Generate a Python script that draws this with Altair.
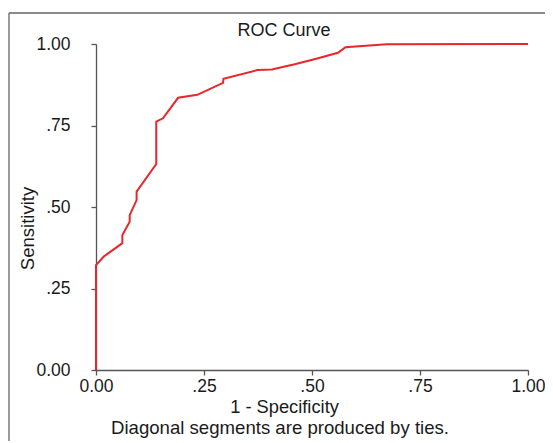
import altair as alt
import pandas as pd

# ROC curve points (1 - specificity, sensitivity)
FPR = [0.0, 0.0, 0.018, 0.061, 0.061, 0.078, 0.078, 0.094, 0.094, 0.1395, 0.1395,
       0.155, 0.19, 0.2345, 0.294, 0.295, 0.3735, 0.407, 0.46, 0.51, 0.56, 0.5775,
       0.6725, 1.0]
TPR = [0.0, 0.322, 0.348, 0.389, 0.414, 0.455, 0.475, 0.521, 0.547, 0.632, 0.762,
       0.772, 0.835, 0.844, 0.881, 0.893, 0.920, 0.922, 0.938, 0.955, 0.973, 0.990,
       0.999, 1.0]
TICKS = [0.0, 0.25, 0.5, 0.75, 1.0]
X_TICK_LABELS = ["0.00", ".25", ".50", ".75", "1.00"]
Y_TICK_LABELS = ["0.00", ".25", ".50", ".75", "1.00"]

TITLE = "ROC Curve"
X_TITLE = "1 - Specificity"
Y_TITLE = "Sensitivity"
FOOTNOTE = "Diagonal segments are produced by ties."

FONT = "Liberation Sans"
W, H = 432, 326

df = pd.DataFrame({"fpr": FPR, "tpr": TPR, "order": list(range(len(FPR)))})


def label_expr(labels):
    parts = " : ".join(
        f"abs(datum.value - {v}) < 0.001 ? '{lab}'" for v, lab in zip(TICKS, labels)
    )
    return parts + " : ''"


x_axis = alt.Axis(
    values=TICKS, labelExpr=label_expr(X_TICK_LABELS), grid=False,
    tickSize=5, labelPadding=16.5, labelBaseline="alphabetic", labelFlush=False,
    labelFont=FONT, labelFontSize=17.5, labelColor="#1a1a1a",
    domainColor="#555", tickColor="#555", domainWidth=1.3, tickWidth=1.3,
    title=X_TITLE, titleFont=FONT, titleFontSize=18.3, titleFontWeight="normal",
    titleColor="#1a1a1a", titleX=188, titleY=42.5, titleBaseline="alphabetic",
    titleAlign="center",
)
y_axis = alt.Axis(
    values=TICKS, labelExpr=label_expr(Y_TICK_LABELS), grid=False,
    tickSize=5, labelPadding=21, labelBaseline="middle", labelFlush=False,
    labelFont=FONT, labelFontSize=17.5, labelColor="#1a1a1a",
    domainColor="#555", tickColor="#555", domainWidth=1.3, tickWidth=1.3,
    title=Y_TITLE, titleFont=FONT, titleFontSize=18.5, titleFontWeight="normal",
    titleColor="#1a1a1a", titleX=-62.5, titleY=184, titleBaseline="alphabetic",
    titleAlign="center", titleAngle=270,
)

line = alt.Chart(df).mark_line(color="#e8262b", strokeWidth=2).encode(
    x=alt.X("fpr:Q", scale=alt.Scale(domain=[0, 1], nice=False), axis=x_axis),
    y=alt.Y("tpr:Q", scale=alt.Scale(domain=[0, 1], nice=False), axis=y_axis),
    order="order:Q",
)

frame_top = alt.Chart(pd.DataFrame({"a": [0]})).mark_rule(color="#666", strokeWidth=1.3).encode(
    x=alt.value(-87), x2=alt.value(W + 20), y=alt.value(-31)
)
frame_left = alt.Chart(pd.DataFrame({"a": [0]})).mark_rule(color="#666", strokeWidth=1.3).encode(
    x=alt.value(-87), y=alt.value(-31), y2=alt.value(H + 75)
)

title = alt.Chart(pd.DataFrame({"t": [TITLE]})).mark_text(
    font=FONT, fontSize=18, color="#1a1a1a", align="center", baseline="alphabetic"
).encode(text="t:N", x=alt.value(188), y=alt.value(-8))

foot = alt.Chart(pd.DataFrame({"t": [FOOTNOTE]})).mark_text(
    font=FONT, fontSize=18.6, color="#1a1a1a", align="center", baseline="alphabetic"
).encode(text="t:N", x=alt.value(184), y=alt.value(390))

chart = alt.layer(frame_top, frame_left, line, title, foot).properties(
    width=W, height=H,
    autosize=alt.AutoSizeParams(type="none"),
    padding={"left": 88, "top": 36, "right": 17, "bottom": 71},
).configure_view(stroke=None)

chart.save("out.html", embed_options={"renderer": "svg", "actions": False})
